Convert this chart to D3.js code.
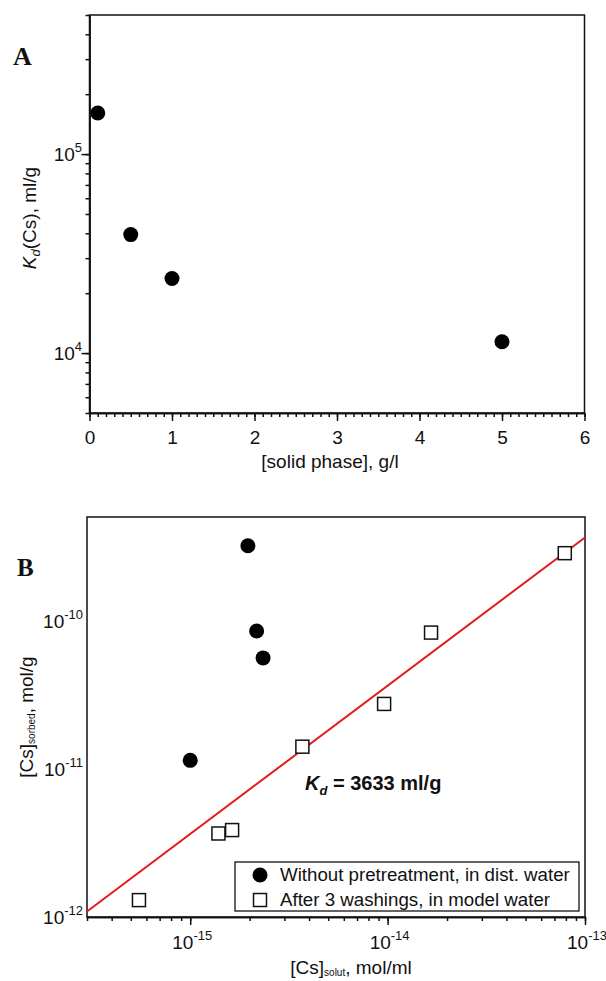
<!DOCTYPE html>
<head>
  <meta charset="utf-8">
  <script src="https://cdnjs.cloudflare.com/ajax/libs/d3/7.8.5/d3.min.js"></script>
</head>

<style>
body {
  margin: 0;
  background-color: #fff;
}
svg text {
  font-family: "Liberation Sans", Arial, sans-serif;
  fill: #111;
}
.frame {
  fill: none;
  stroke: #111;
  stroke-width: 1.5;
}
.axis path, .axis line {
  stroke: #111;
  stroke-width: 1.5;
}
</style>

<body>
  <svg id='chart' width='606' height='981'></svg>
</body>

<script>

// panel A : Kd vs solid phase
var solidPhase = [0.1, 0.5, 1, 5];
var kdCs = [161000, 39400, 23700, 11400];
var xTicksA = [0, 1, 2, 3, 4, 5, 6];

// panel B : sorbed vs solute
var solutDist = [1.96e-15, 2.17e-15, 2.34e-15, 1.0e-15];
var sorbedDist = [3.2e-10, 8.5e-11, 5.6e-11, 1.14e-11];
var solutModel = [5.5e-16, 1.39e-15, 1.63e-15, 3.7e-15, 9.6e-15, 1.66e-14, 7.9e-14];
var sorbedModel = [1.3e-12, 3.66e-12, 3.86e-12, 1.41e-11, 2.74e-11, 8.3e-11, 2.85e-10];
var kdFit = 3633; // ml/g
var legendLabels = ['Without pretreatment, in dist. water', 'After 3 washings, in model water'];

var svg = d3.select('#chart');

// log ticks 1..9 per decade inside [lo, hi]
function logTicks(lo, hi, majorOnly) {
  var t = [];
  for (var e = Math.floor(Math.log10(lo)); e <= Math.ceil(Math.log10(hi)); e++) {
    for (var m = 1; m < 10; m++) {
      if (majorOnly && m > 1) continue;
      var v = +(m + 'e' + e);
      if (v >= lo * 0.999 && v <= hi * 1.001) t.push(v);
    }
  }
  return t;
}

function powLabel(g, x, y, v, anchor) {
  var t = g.append('text')
    .attr('x', x).attr('y', y)
    .attr('text-anchor', anchor)
    .style('font-size', '19px');
  t.append('tspan').text('10');
  t.append('tspan')
    .attr('dy', -9)
    .style('font-size', '13px')
    .text(Math.round(Math.log10(v)));
}

// ---------- panel A ----------
var xA = d3.scaleLinear().domain([0, 6]).range([89.5, 584.5]);
var yA = d3.scaleLog().domain([5e3, 5e5]).range([413, 15]);

var gA = svg.append('g');

gA.append('g').attr('class', 'axis')
  .attr('transform', 'translate(0,413)')
  .call(d3.axisBottom(xA).tickValues(d3.range(0, 6.01, 0.1)).tickSize(4).tickSizeOuter(0).tickFormat(''));
gA.append('g').attr('class', 'axis')
  .attr('transform', 'translate(0,413)')
  .call(d3.axisBottom(xA).tickValues(xTicksA).tickSize(8).tickSizeOuter(0).tickFormat(d3.format('d')))
  .selectAll('text')
    .style('font-size', '19px')
    .attr('dy', null)
    .attr('y', 31);

gA.append('g').attr('class', 'axis')
  .attr('transform', 'translate(89.5,0)')
  .call(d3.axisLeft(yA).tickValues(logTicks(5e3, 5e5)).tickSize(4).tickSizeOuter(0).tickFormat(''));
gA.append('g').attr('class', 'axis')
  .attr('transform', 'translate(89.5,0)')
  .call(d3.axisLeft(yA).tickValues(logTicks(5e3, 5e5, true)).tickSize(8).tickSizeOuter(0).tickFormat(''));

logTicks(5e3, 5e5, true).forEach(function(v) {
  powLabel(gA, 82, yA(v) + 7, v, 'end');
});

gA.append('rect').attr('class', 'frame')
  .attr('x', 89.5).attr('y', 15)
  .attr('width', 495).attr('height', 398);

gA.selectAll('circle.pt')
  .data(solidPhase)
  .enter().append('circle')
    .attr('class', 'pt')
    .attr('cx', function(d) { return xA(d); })
    .attr('cy', function(d, i) { return yA(kdCs[i]); })
    .attr('r', 7.5)
    .attr('fill', '#000');

gA.append('text')
  .attr('x', 330).attr('y', 468)
  .attr('text-anchor', 'middle')
  .style('font-size', '19px')
  .text('[solid phase], g/l');

var labA = gA.append('text')
  .attr('transform', 'translate(36,218) rotate(-90)')
  .attr('text-anchor', 'middle')
  .style('font-size', '19px');
labA.append('tspan').style('font-style', 'italic').text('K');
labA.append('tspan').style('font-style', 'italic').style('font-size', '13px').attr('dy', 4).text('d');
labA.append('tspan').attr('dy', -4).text('(Cs), ml/g');

gA.append('text')
  .attr('x', 13).attr('y', 65)
  .style('font-family', '"Liberation Serif", "DejaVu Serif", serif')
  .style('font-weight', 'bold')
  .style('font-size', '26px')
  .text('A');

// ---------- panel B ----------
var xB = d3.scaleLog().domain([3e-16, 1e-13]).range([87, 585]);
var yB = d3.scaleLog().domain([1e-12, 5e-10]).range([917, 517]);

var gB = svg.append('g');

gB.append('g').attr('class', 'axis')
  .attr('transform', 'translate(0,917)')
  .call(d3.axisBottom(xB).tickValues(logTicks(3e-16, 1e-13)).tickSize(4).tickSizeOuter(0).tickFormat(''));
gB.append('g').attr('class', 'axis')
  .attr('transform', 'translate(0,917)')
  .call(d3.axisBottom(xB).tickValues(logTicks(3e-16, 1e-13, true)).tickSize(8).tickSizeOuter(0).tickFormat(''));

logTicks(3e-16, 1e-13, true).forEach(function(v) {
  powLabel(gB, xB(v) + 2, 949, v, 'middle');
});
logTicks(1e-12, 5e-10, true).forEach(function(v) {
  powLabel(gB, 83, yB(v) + 7, v, 'end');
});

gB.append('rect').attr('class', 'frame')
  .attr('x', 87).attr('y', 517)
  .attr('width', 498).attr('height', 400);

// fitted Kd line
var xd = xB.domain();
gB.append('line')
  .attr('x1', xB(xd[0])).attr('y1', yB(kdFit * xd[0]))
  .attr('x2', xB(xd[1])).attr('y2', yB(kdFit * xd[1]))
  .attr('stroke', '#e41a1c')
  .attr('stroke-width', 2);

gB.selectAll('circle.pt')
  .data(solutDist)
  .enter().append('circle')
    .attr('class', 'pt')
    .attr('cx', function(d) { return xB(d); })
    .attr('cy', function(d, i) { return yB(sorbedDist[i]); })
    .attr('r', 7.5)
    .attr('fill', '#000');

gB.selectAll('rect.pt')
  .data(solutModel)
  .enter().append('rect')
    .attr('class', 'pt')
    .attr('x', function(d) { return xB(d) - 6.5; })
    .attr('y', function(d, i) { return yB(sorbedModel[i]) - 6.5; })
    .attr('width', 13).attr('height', 13)
    .attr('fill', '#fff')
    .attr('stroke', '#111')
    .attr('stroke-width', 1.5);

var kdText = gB.append('text')
  .attr('x', 305).attr('y', 790)
  .style('font-weight', 'bold')
  .style('font-size', '20px');
kdText.append('tspan').style('font-style', 'italic').text('K');
kdText.append('tspan').style('font-style', 'italic').style('font-size', '13px').attr('dy', 5).text('d');
kdText.append('tspan').attr('dy', -5).text(' = ' + kdFit + ' ml/g');

// legend
gB.append('rect')
  .attr('x', 235).attr('y', 862)
  .attr('width', 344).attr('height', 49)
  .attr('fill', '#fff')
  .attr('stroke', '#111')
  .attr('stroke-width', 1.3);
gB.append('circle').attr('cx', 260).attr('cy', 875).attr('r', 7.5).attr('fill', '#000');
gB.append('rect').attr('x', 253.5).attr('y', 893.5).attr('width', 13).attr('height', 13)
  .attr('fill', '#fff').attr('stroke', '#111').attr('stroke-width', 1.5);
legendLabels.forEach(function(s, i) {
  gB.append('text')
    .attr('x', 280).attr('y', 881 + i * 25)
    .style('font-size', '18.7px')
    .text(s);
});

gB.append('text')
  .attr('x', 351).attr('y', 974)
  .attr('text-anchor', 'middle')
  .style('font-size', '19px')
  .call(function(t) {
    t.append('tspan').text('[Cs]');
    t.append('tspan').style('font-size', '10px').attr('dy', 2).text('solut');
    t.append('tspan').attr('dy', -2).text(', mol/ml');
  });

gB.append('text')
  .attr('transform', 'translate(33,717) rotate(-90)')
  .attr('text-anchor', 'middle')
  .style('font-size', '19px')
  .call(function(t) {
    t.append('tspan').text('[Cs]');
    t.append('tspan').style('font-size', '10px').attr('dy', 2).text('sorbed');
    t.append('tspan').attr('dy', -2).text(', mol/g');
  });

gB.append('text')
  .attr('x', 17).attr('y', 576)
  .style('font-family', '"Liberation Serif", "DejaVu Serif", serif')
  .style('font-weight', 'bold')
  .style('font-size', '25px')
  .text('B');

</script>
